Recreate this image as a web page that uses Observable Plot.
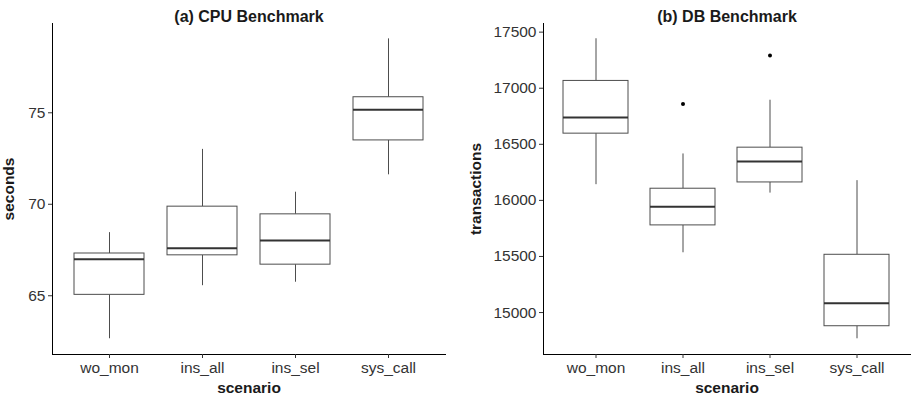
<!DOCTYPE html>
<html>
<head>
<meta charset="utf-8">
<script src="https://cdn.jsdelivr.net/npm/d3@7"></script>
<script src="https://cdn.jsdelivr.net/npm/@observablehq/plot@0.6"></script>
<style>
  html, body { margin: 0; padding: 0; background: #fff; }
  #wrap { display: flex; flex-direction: row; width: 911px; height: 399px; }
  svg { display: block; }
</style>
</head>
<body>
<div id="wrap"></div>
<script>
// ---- data ----
const scenarios = ["wo_mon", "ins_all", "ins_sel", "sys_call"];

const cpuLow  = [62.65, 65.55, 65.74, 71.61];
const cpuQ1   = [65.05, 67.21, 66.70, 73.49];
const cpuMed  = [67.00, 67.60, 68.02, 75.16];
const cpuQ3   = [67.31, 69.87, 69.45, 75.85];
const cpuHigh = [68.45, 73.00, 70.66, 79.04];
const cpuOutScenario = [];
const cpuOutValue = [];
const cpuTicks = [65, 70, 75];
const cpuDomain = [61.79, 79.88];

const dbLow  = [16140, 15533, 16065, 14766];
const dbQ1   = [16595, 15777, 16160, 14878];
const dbMed  = [16738, 15944, 16346, 15083];
const dbQ3   = [17065, 16104, 16470, 15515];
const dbHigh = [17441, 16414, 16893, 16176];
const dbOutScenario = ["ins_all", "ins_sel"];
const dbOutValue = [16860, 17292];
const dbTicks = [15000, 15500, 16000, 16500, 17000, 17500];
const dbDomain = [14626, 17577];

const FONT = "'Liberation Sans', Arial, Helvetica, sans-serif";

function panel({title, ylabel, low, q1, med, q3, high, outS, outV, ticks, domain,
                width, marginLeft, marginRight, labelOffset}) {
  const rows = scenarios.map((s, i) => ({s, low: low[i], q1: q1[i], med: med[i], q3: q3[i], high: high[i]}));
  const outs = outS.map((s, i) => ({s, v: outV[i]}));
  return Plot.plot({
    width, height: 399,
    marginLeft, marginRight, marginTop: 23, marginBottom: 45,
    style: {fontFamily: FONT, fontSize: "15.5px", color: "#333", background: "white"},
    x: {type: "band", domain: scenarios, paddingInner: 0.25, paddingOuter: 0.225, label: null},
    y: {domain, label: null},
    marks: [
      Plot.frame({anchor: "left", stroke: "#000", strokeWidth: 1}),
      Plot.frame({anchor: "bottom", stroke: "#000", strokeWidth: 1}),
      Plot.axisY({ticks, tickFormat: d3.format("d"), tickSize: 4, tickPadding: 3, stroke: "#333", fill: "#333", fontSize: 15.5,
                  label: ylabel, labelAnchor: "center", labelArrow: "none", labelOffset}),
      Plot.axisX({tickSize: 4, tickPadding: 3, stroke: "#333", fill: "#333", fontSize: 15.5,
                  label: "scenario", labelAnchor: "center", labelArrow: "none", labelOffset: 38}),
      Plot.ruleX(rows, {x: "s", y1: "low", y2: "q1", stroke: "#4d4d4d", strokeWidth: 1}),
      Plot.ruleX(rows, {x: "s", y1: "q3", y2: "high", stroke: "#4d4d4d", strokeWidth: 1}),
      Plot.barY(rows, {x: "s", y1: "q1", y2: "q3", fill: "white", stroke: "#4d4d4d", strokeWidth: 1}),
      Plot.tickY(rows, {x: "s", y: "med", stroke: "#333", strokeWidth: 2}),
      Plot.dot(outs, {x: "s", y: "v", r: 2, fill: "#000", stroke: null}),
      Plot.text([title], {frameAnchor: "top", dy: -13, fontWeight: "bold", fontSize: 16, fill: "#1a1a1a"})
    ]
  });
}

const left = panel({
  title: "(a) CPU Benchmark", ylabel: "seconds",
  low: cpuLow, q1: cpuQ1, med: cpuMed, q3: cpuQ3, high: cpuHigh,
  outS: cpuOutScenario, outV: cpuOutValue, ticks: cpuTicks, domain: cpuDomain,
  width: 455, marginLeft: 52, marginRight: 10, labelOffset: 50
});
const right = panel({
  title: "(b) DB Benchmark", ylabel: "transactions",
  low: dbLow, q1: dbQ1, med: dbMed, q3: dbQ3, high: dbHigh,
  outS: dbOutScenario, outV: dbOutValue, ticks: dbTicks, domain: dbDomain,
  width: 456, marginLeft: 88, marginRight: 1, labelOffset: 74
});

// axis titles bold
for (const svg of [left, right]) {
  svg.querySelectorAll("[aria-label='y-axis label'] text, [aria-label='x-axis label'] text").forEach(t => {
    t.setAttribute("font-weight", "bold");
    t.setAttribute("fill", "#1a1a1a");
  });
}
document.getElementById("wrap").append(left, right);
</script>
</body>
</html>
